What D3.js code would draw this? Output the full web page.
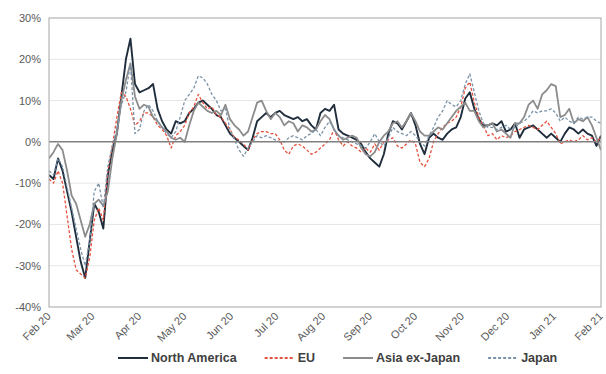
<!DOCTYPE html>
<html>
<head>
<meta charset="utf-8">
<script src="https://cdn.jsdelivr.net/npm/d3@7/dist/d3.min.js"></script>
<style>
  html, body { margin: 0; padding: 0; background: #fff; }
  svg { display: block; font-family: "Liberation Sans", Arial, sans-serif; }
</style>
</head>
<body>
<svg id="chart" width="606" height="374"></svg>
<script>
// ---- data (percent), one value every STEP_DAYS days from START_DATE ----
const START_DATE = "2020-02-01";
const STEP_DAYS = 3;
const seriesNames = ["North America", "EU", "Asia ex-Japan", "Japan"];

const northAmerica = [
  -8, -9, -4, -7, -12, -17, -23, -29, -33, -24,
  -15, -17, -21, -8, -2, 2, 11, 20, 25, 14,
  12, 12.5, 13, 14, 8, 5, 3, 2, 5, 4.5,
  5, 7, 8, 9.5, 10, 9, 8, 6.5, 6, 4,
  2, 1, 0, -1, -2, 1, 5, 6, 7, 6,
  7, 7.5, 6.5, 6, 5.5, 6, 5, 5.5, 4, 3,
  7, 8, 7.5, 9, 3, 2, 1.5, 1, 0.5, -0.5,
  -2.5, -4, -5, -6, -3, 2, 5, 4.5, 3, 5,
  7, 4, -0.5, -3, 1, 2, 1, 0.5, 2, 3,
  3.5, 6, 10.5, 12, 8, 5.5, 4, 4, 4.5, 4,
  5, 2.5, 3, 4.5, 1, 3, 3.5, 4, 3, 2,
  1, 2, 1, 0, 2, 3.5, 3, 2, 3, 2,
  1.5, -1, 1.5
];
const eu = [
  -9, -10, -7, -10, -18, -26, -31, -32, -33, -28,
  -19, -16, -19, -7, -1, 6, 12, 11, 8, 4,
  5, 7, 7, 6, 4, 3, 1.5, -1.5, 1.5, 2.5,
  4, 7, 8.5, 11.5, 9.5, 8, 8.5, 6.5, 6, 4.5,
  3, 1, 0.5, -0.5, -2, 0.5, 2, 2.5, 2.5, 2,
  2, 0.5, -2, -3, -1, -0.5, -1, -2, -3, -2.5,
  -1.5, -0.5, 0.5, 3, 0.5, -1, 0, -1, -1.5, -2.5,
  -1.5, -2.5, -0.5, -2, 0, 0.5, 1, -1, -1.5, -0.5,
  0.5, -0.5, -5, -6, -4, 0, 2, 3.5, 4.5, 5,
  6, 8.5, 13, 14.5, 9.5, 6, 4, 1.5, 2, 0.5,
  1.5, 1, 1.5, 2.5, 3, 3.5, 4, 3.5, 3, 4,
  5, 3.5, 2, -0.5, 0, 0.5, 0, 0.5, 1.5, 0.5,
  1, 0, 1
];
const asiaExJapan = [
  -4, -2.5, -0.5, -2, -7, -13, -15, -19, -23, -20,
  -15, -14, -15.5, -12, -4, 2, 10, 15, 19, 11,
  8, 9, 8.5, 6, 5, 3.5, 2.5, 1, 0.5, 1,
  0, 4, 7.5, 9.5, 8.5, 7.5, 7, 7.5, 6.5, 9,
  5.5, 4, 3, 1.5, 2.5, 6, 9.5, 10, 7.5, 5.5,
  7, 6, 4, 5, 4.5, 2.5, 4, 3.5, 2.5, 3,
  5, 6.5, 5.5, 3, 1.5, 0.5, 1, 1.5, 1, -1.5,
  -3, -3.5, -2.5, 0, 1.5, 2.5, 4.5, 5, 3.5, 5,
  7, 5, 2.5, 1.5, 1.5, 2.5, 3.5, 3, 4.5, 6,
  7.5, 8.5, 9.5, 7.5, 7.5, 5, 3.5, 4, 4.5, 2.5,
  3, 2, 1, 4.5, 4.5, 6, 9, 10, 8, 11.5,
  12.5, 14, 13.5, 6, 6.5, 8, 4.5, 5.5, 5, 6,
  4, 1, -2
];
const japan = [
  -7, -8, -4, -6, -11, -16, -21, -26, -30, -24,
  -12, -10, -16, -6, -1, 3, 9, 12, 19, 2,
  3, 7.5, 9, 7.5, 5, 3.5, 2, 1, 2.5, 6,
  10, 11.5, 13, 16, 15.5, 14, 11.5, 10, 7.5, 8,
  3, 0.5, -2, -3.5, -1.5, 0, 1.5, 1, 1.5, 1,
  0.5, 0, 0, 1, 1.5, 1, 0.5, 1.5, 2, 3,
  1.5, 3.5, 5, 3, 1.5, 1, 0.5, 0, -0.5, -1,
  -1.5, 0, 2, 0, -1, 1, 3.5, 2.5, 2, 1.5,
  2.5, 1.5, 0, -1, 1.5, 3.5, 6, 7.5, 10, 9,
  8.5, 10, 14, 16.5, 12, 7.5, 4.5, 3.5, 3.5, 3,
  3.5, 4, 3, 3.5, 4.5, 5, 6, 7.5, 7, 7.5,
  7.5, 8, 7, 5, 6, 5, 4.5, 6, 5.5, 6,
  6, 5, 4.5
];
const yTicks = [30, 20, 10, 0, -10, -20, -30, -40];
const xTickLabels = ["Feb 20","Mar 20","Apr 20","May 20","Jun 20","Jul 20","Aug 20",
                     "Sep 20","Oct 20","Nov 20","Dec 20","Jan 21","Feb 21"];

// ---- layout ----
const svg = d3.select("#chart");
const L = 49, R = 601, T = 18, B = 307;
const parse = d3.timeParse("%Y-%m-%d");
const start = parse(START_DATE);
const end = new Date(2021, 1, 1);
const x = d3.scaleTime().domain([start, end]).range([L, R]);
const y = d3.scaleLinear().domain([-40, 30]).range([B, T]);
const tickDates = d3.timeMonth.range(start, d3.timeDay.offset(end, 1));

const styles = [
  { color: "#1f2d3c", width: 1.9, dash: null },
  { color: "#e5513e", width: 1.3, dash: "3,2" },
  { color: "#8c8c8c", width: 1.8, dash: null },
  { color: "#7b93a8", width: 1.3, dash: "3,2" }
];
const allSeries = [northAmerica, eu, asiaExJapan, japan];

// gridlines
svg.append("g").selectAll("line").data(yTicks.filter(v => v !== 0 && v !== 30 && v !== -40))
  .join("line")
  .attr("x1", L).attr("x2", R)
  .attr("y1", d => y(d)).attr("y2", d => y(d))
  .attr("stroke", "#e6e6e6").attr("stroke-width", 1);

// y labels
const yAxis = d3.axisLeft(y).tickValues(yTicks).tickSize(0).tickPadding(8).tickFormat(d => d + "%");
const gy = svg.append("g").attr("transform", `translate(${L},0)`).call(yAxis);
gy.select(".domain").remove();
gy.selectAll("text").attr("fill", "#595959").style("font-size", "11px")
  .style("font-family", "'Liberation Sans', Arial, sans-serif");

// x labels
const xAxis = d3.axisBottom(x).tickValues(tickDates).tickSize(0)
  .tickFormat((d, i) => xTickLabels[i]);
const gx = svg.append("g").attr("transform", `translate(0,${B})`).call(xAxis);
gx.select(".domain").remove();
gx.selectAll("text")
  .attr("fill", "#595959").style("font-size", "11px")
  .style("font-family", "'Liberation Sans', Arial, sans-serif")
  .attr("text-anchor", "end")
  .attr("y", 0).attr("dy", 0)
  .attr("transform", "translate(2,10) rotate(-45)");

// clip
svg.append("clipPath").attr("id", "clip").append("rect")
  .attr("x", L).attr("y", T).attr("width", R - L).attr("height", B - T);

// lines
const line = d3.line()
  .x((d, i) => x(d3.timeDay.offset(start, i * STEP_DAYS)))
  .y(d => y(d));
const gLines = svg.append("g").attr("clip-path", "url(#clip)");
allSeries.forEach((s, k) => {
  gLines.append("path").datum(s)
    .attr("d", line)
    .attr("fill", "none")
    .attr("stroke", styles[k].color)
    .attr("stroke-width", styles[k].width)
    .attr("stroke-linejoin", "round")
    .attr("stroke-dasharray", styles[k].dash);
});

// zero line
svg.append("line").attr("x1", L).attr("x2", R).attr("y1", y(0)).attr("y2", y(0))
  .attr("stroke", "#808080").attr("stroke-width", 1.5);

// frame
svg.append("rect").attr("x", L).attr("y", T).attr("width", R - L).attr("height", B - T)
  .attr("fill", "none").attr("stroke", "#a6a6a6").attr("stroke-width", 1);

// legend
const leg = svg.append("g");
let lx = 118;
const ly = 358;
seriesNames.forEach((name, k) => {
  leg.append("line").attr("x1", lx).attr("x2", lx + 30).attr("y1", ly).attr("y2", ly)
    .attr("stroke", styles[k].color).attr("stroke-width", 2)
    .attr("stroke-dasharray", styles[k].dash);
  const t = leg.append("text").attr("x", lx + 33).attr("y", ly + 4)
    .attr("fill", "#404040").style("font-size", "12.5px").style("font-weight", "bold")
    .text(name);
  lx = lx + 33 + t.node().getComputedTextLength() + 28;
});
</script>
</body>
</html>
